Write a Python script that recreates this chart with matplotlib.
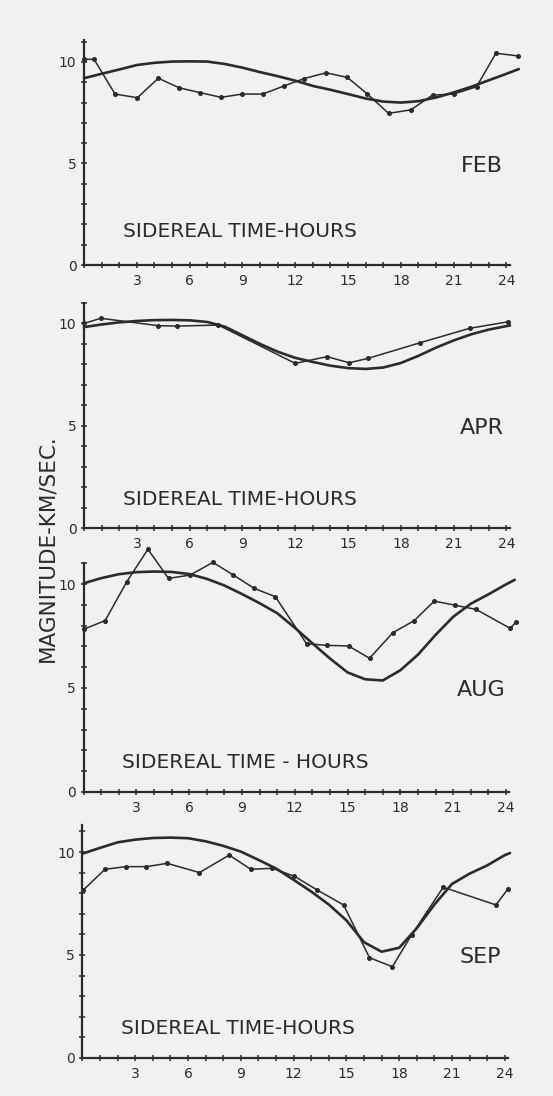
import matplotlib
matplotlib.use("Agg")
import matplotlib.pyplot as plt

# sidereal hour of each plotted observation and its magnitude (km/sec)
feb_hours = [0.0, 0.57, 1.76, 3.03, 4.22, 5.4, 6.59, 7.78, 9.0, 10.15, 11.36, 12.5, 13.75,
             14.96, 16.1, 17.3, 18.56, 19.8, 21.0, 22.3, 23.4, 24.64]
feb_obs = [10.13, 10.13, 8.42, 8.24, 9.2, 8.73, 8.49, 8.26, 8.42, 8.42, 8.82, 9.18, 9.47,
           9.24, 8.42, 7.47, 7.64, 8.37, 8.42, 8.78, 10.43, 10.3]

apr_hours = [0.0, 0.95, 4.22, 5.3, 7.63, 12.0, 13.8, 15.07, 16.15, 19.1, 21.9, 24.1]
apr_obs = [9.98, 10.23, 9.87, 9.85, 9.9, 8.03, 8.36, 8.06, 8.28, 9.04, 9.74, 10.06]

aug_hours = [0.0, 1.23, 2.46, 3.66, 4.83, 6.06, 7.35, 8.52, 9.7, 10.9, 12.67, 13.85, 15.06,
             16.25, 17.58, 18.79, 19.93, 21.1, 22.3, 24.24, 24.6]
aug_obs = [7.82, 8.24, 10.11, 11.67, 10.27, 10.43, 11.04, 10.43, 9.79, 9.39, 7.13, 7.05, 7.02,
           6.43, 7.66, 8.24, 9.18, 8.98, 8.78, 7.87, 8.19]

sep_hours = [0.06, 1.28, 2.47, 3.64, 4.82, 6.65, 8.34, 9.57, 10.8, 12.05, 13.33, 14.84,
             16.31, 17.61, 18.7, 20.5, 23.5, 24.16]
sep_obs = [8.16, 9.16, 9.29, 9.29, 9.45, 9.0, 9.85, 9.16, 9.21, 8.82, 8.16, 7.43,
           4.87, 4.43, 5.97, 8.29, 7.43, 8.19]

feb_curve_hours = [0, 1, 2, 3, 4, 5, 6, 7, 8, 9, 10, 11, 12, 13, 14, 15, 16, 17, 18, 19, 20,
                   21, 22, 23, 24, 24.7]
feb_curve = [9.2, 9.42, 9.63, 9.85, 9.96, 10.02, 10.03, 10.02, 9.9, 9.72, 9.5, 9.3, 9.08,
             8.82, 8.63, 8.42, 8.2, 8.05, 8.0, 8.07, 8.25, 8.5, 8.78, 9.1, 9.42, 9.65]

apr_curve_hours = [0, 1, 2, 3, 4, 5, 6, 7, 8, 9, 10, 11, 12, 13, 14, 15, 16, 17, 18, 19, 20,
                   21, 22, 23, 24, 24.2]
apr_curve = [9.8, 9.93, 10.03, 10.1, 10.14, 10.15, 10.13, 10.05, 9.82, 9.4, 8.98, 8.6, 8.3,
             8.1, 7.92, 7.8, 7.76, 7.83, 8.05, 8.4, 8.8, 9.15, 9.45, 9.68, 9.85, 9.88]

aug_curve_hours = [0, 1, 2, 3, 4, 5, 6, 7, 8, 9, 10, 11, 12, 13, 14, 15, 16, 17, 18, 19, 20,
                   21, 22, 23, 24, 24.5]
aug_curve = [10.03, 10.28, 10.47, 10.57, 10.6, 10.58, 10.48, 10.25, 9.93, 9.52, 9.08, 8.6,
             7.9, 7.15, 6.42, 5.75, 5.42, 5.36, 5.85, 6.6, 7.55, 8.42, 9.05, 9.5, 9.98, 10.2]

sep_curve_hours = [0, 1, 2, 3, 4, 5, 6, 7, 8, 9, 10, 11, 12, 13, 14, 15, 16, 17, 18, 19, 20,
                   21, 22, 23, 24, 24.3]
sep_curve = [9.92, 10.2, 10.47, 10.6, 10.68, 10.7, 10.67, 10.52, 10.3, 10.02, 9.62, 9.2,
             8.65, 8.08, 7.45, 6.68, 5.62, 5.16, 5.35, 6.3, 7.45, 8.45, 8.95, 9.35, 9.85, 9.95]

months = ["FEB", "APR", "AUG", "SEP"]
x_title = ["SIDEREAL TIME-HOURS", "SIDEREAL TIME-HOURS", "SIDEREAL TIME - HOURS",
           "SIDEREAL TIME-HOURS"]
hour_ticks = list(range(0, 25))
hour_labels = ["" if h % 3 or h == 0 else str(h) for h in hour_ticks]
mag_ticks = list(range(0, 12))
mag_labels = [str(m) if m in (0, 5, 10) else "" for m in mag_ticks]

INK = "#2b2b2b"
PAPER = "#f1f1ef"

fig = plt.figure(figsize=(5.53, 10.96), dpi=100, facecolor=PAPER)

# [left, bottom, width, height] in figure fraction, y-axis top
boxes = [
    ([0.152, 0.7582, 0.7957, 0.2223], 11.1),
    ([0.152, 0.5182, 0.7957, 0.2245], 11.0),
    ([0.151, 0.2774, 0.7957, 0.2277], 11.0),
    ([0.149, 0.0347, 0.7957, 0.2255], 11.3),
]
panels = [
    (feb_hours, feb_obs, feb_curve_hours, feb_curve),
    (apr_hours, apr_obs, apr_curve_hours, apr_curve),
    (aug_hours, aug_obs, aug_curve_hours, aug_curve),
    (sep_hours, sep_obs, sep_curve_hours, sep_curve),
]
title_y = [1.63, 1.41, 1.44, 1.41]

for i, (box, ytop) in enumerate(boxes):
    ax = fig.add_axes(box)
    ax.patch.set_visible(False)   # keep tick labels of the panel above visible
    hrs, obs, chrs, cur = panels[i]
    ax.plot(chrs, cur, color=INK, lw=1.9, solid_capstyle="round", clip_on=False)
    ax.plot(hrs, obs, color=INK, lw=1.1, marker="o", ms=2.6, clip_on=False)

    ax.set_xlim(0, 25)
    ax.set_ylim(0, 12)
    for side in ("top", "right"):
        ax.spines[side].set_visible(False)
    ax.spines["left"].set_bounds(0, ytop)
    ax.spines["bottom"].set_bounds(0, 24.2)
    for side in ("left", "bottom"):
        ax.spines[side].set_linewidth(1.6)
        ax.spines[side].set_color(INK)

    ax.set_xticks(hour_ticks)
    ax.set_xticklabels(hour_labels)
    ax.set_yticks(mag_ticks)
    ax.set_yticklabels(mag_labels)
    ax.tick_params(direction="inout", length=5, width=1.1, colors=INK,
                   labelsize=10, pad=3)
    ax.tick_params(axis="x", pad=4)

    ax.text(2.2, title_y[i], x_title[i], fontsize=14.5, color=INK, va="center", ha="left")
    ax.text(22.6, 4.9, months[i], fontsize=16, color=INK, va="center", ha="center")

fig.text(0.085, 0.5, "MAGNITUDE-KM/SEC.", rotation=90, fontsize=15.5, color=INK,
         va="center", ha="center")

fig.savefig("out.png", dpi=100, facecolor=PAPER)
